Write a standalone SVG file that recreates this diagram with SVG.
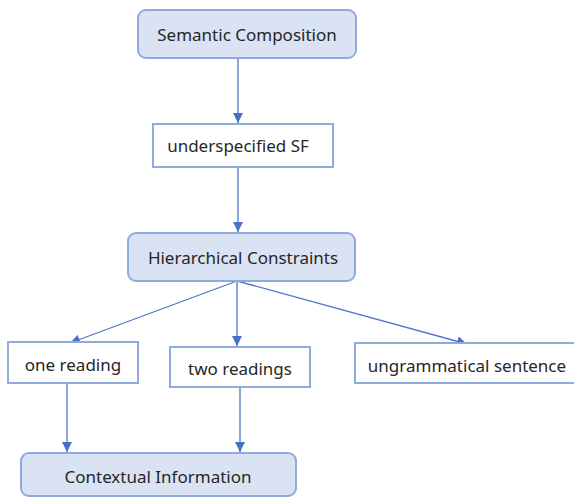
<svg xmlns="http://www.w3.org/2000/svg" width="574" height="500" viewBox="0 0 574 500">
<style>
.box{fill:#dae3f3;stroke:#8faadc;stroke-width:2}
.plain{fill:#ffffff;stroke:#8faadc;stroke-width:2}
.lbl{font-family:"Noto Sans","Liberation Sans",sans-serif;font-size:17px;fill:#262626;text-anchor:middle;dominant-baseline:central}
.edge{stroke:#4f76c9;stroke-width:1.3;fill:none;marker-end:url(#ah)}
</style>
<defs>
<marker id="ah" viewBox="0 0 10 10" refX="10" refY="5" markerWidth="10" markerHeight="10" markerUnits="userSpaceOnUse" orient="auto">
<path d="M0,0 L10,5 L0,10 Z" fill="#4472c4"/>
</marker>
</defs>
<rect width="574" height="500" fill="#ffffff"/>
<g id="connectors">
<line class="edge" x1="238" y1="58" x2="238" y2="123"/>
<line class="edge" x1="238" y1="167" x2="238" y2="232"/>
<line class="edge" x1="237" y1="281" x2="70" y2="343"/>
<line class="edge" x1="237" y1="281" x2="237" y2="346"/>
<line class="edge" x1="237" y1="281" x2="467" y2="344"/>
<line class="edge" x1="67" y1="383" x2="67" y2="452"/>
<line class="edge" x1="240" y1="387" x2="240" y2="452"/>
</g>
<g id="semantic-composition">
<rect class="box" x="138" y="10" width="218" height="48" rx="8"/>
<text class="lbl" x="247" y="34">Semantic Composition</text>
</g>
<g id="underspecified-sf">
<rect class="plain" x="153" y="124" width="180" height="43"/>
<text class="lbl" x="238" y="145">underspecified SF</text>
</g>
<g id="hierarchical-constraints">
<rect class="box" x="128" y="233" width="227" height="48" rx="8"/>
<text class="lbl" x="243" y="257">Hierarchical Constraints</text>
</g>
<g id="one-reading">
<rect class="plain" x="8" y="342" width="130" height="41"/>
<text class="lbl" x="73" y="364">one reading</text>
</g>
<g id="two-readings">
<rect class="plain" x="170" y="347" width="140" height="40"/>
<text class="lbl" x="240" y="368">two readings</text>
</g>
<g id="ungrammatical-sentence">
<rect class="plain" x="355" y="343" width="230" height="40"/>
<text class="lbl" x="467" y="365">ungrammatical sentence</text>
</g>
<g id="contextual-information">
<rect class="box" x="21" y="453" width="275" height="43" rx="8"/>
<text class="lbl" x="158" y="476">Contextual Information</text>
</g>
</svg>
